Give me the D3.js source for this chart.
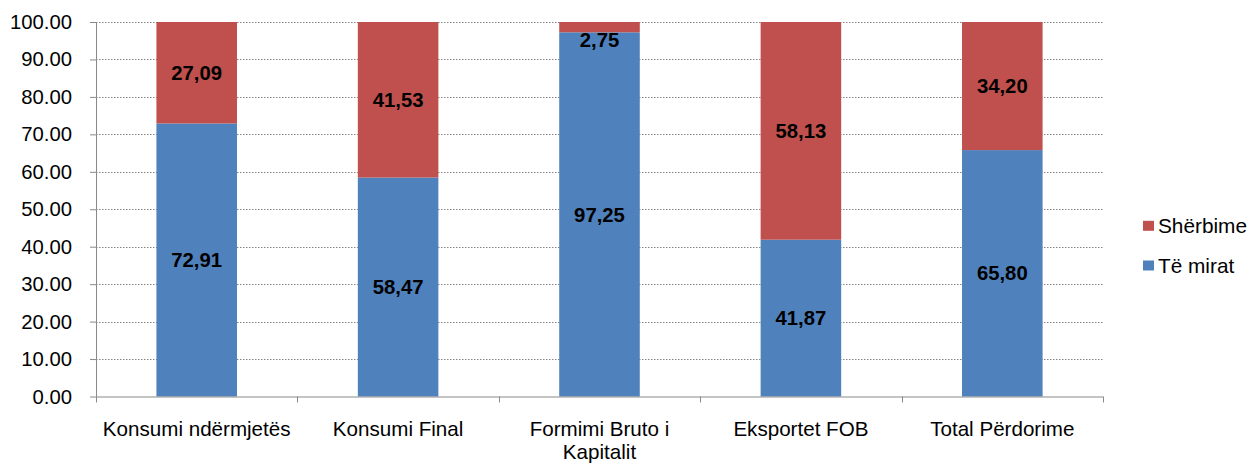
<!DOCTYPE html>
<html><head><meta charset="utf-8">
<script src="https://cdn.jsdelivr.net/npm/d3@7"></script>
<style>body{margin:0;background:#fff;font-family:"Liberation Sans",Arial,sans-serif}</style>
</head><body><svg id="c" width="1253" height="464"></svg>
<script>
const categories = ["Konsumi ndërmjetës","Konsumi Final","Formimi Bruto i Kapitalit","Eksportet FOB","Total Përdorime"];
const teMirat = [72.91, 58.47, 97.25, 41.87, 65.80];
const sherbime = [27.09, 41.53, 2.75, 58.13, 34.20];
const seriesNames = ["Të mirat","Shërbime"];
const yTicks = [0,10,20,30,40,50,60,70,80,90,100];

const svg = d3.select("#c");
const FS = "20.3px";
const L = 96, R = 1103, T = 22, B = 396.5;
const x = d3.scaleBand().domain(categories).range([L,R]).paddingInner(0.6).paddingOuter(0.3);
const y = d3.scaleLinear().domain([0,100]).range([B,T]);
const colors = ["#4F81BD","#C0504D"];

// gridlines
svg.append("g").selectAll("line").data(yTicks.slice(1)).join("line")
  .attr("x1",L).attr("x2",R).attr("y1",d=>Math.round(y(d))+0.5).attr("y2",d=>Math.round(y(d))+0.5)
  .attr("stroke","#868686").attr("stroke-width",1).attr("stroke-dasharray","1.5,1.5");

const rows = categories.map((c,i)=>({cat:c, "Të mirat":teMirat[i], "Shërbime":sherbime[i]}));
const stack = d3.stack().keys(seriesNames)(rows);

svg.append("g").selectAll("g").data(stack).join("g").attr("fill",(d,i)=>colors[i])
  .selectAll("rect").data(d=>d).join("rect")
  .attr("x",d=>x(d.data.cat)).attr("width",x.bandwidth())
  .attr("y",d=>y(d[1])).attr("height",d=>y(d[0])-y(d[1]));

// labels
const fmt = v => v.toFixed(2).replace(".",",");
stack.forEach((s,si)=>{
  svg.append("g").selectAll("text").data(s).join("text")
    .attr("x",d=>x(d.data.cat)+x.bandwidth()/2)
    .attr("y",d=>{const c=(y(d[0])+y(d[1]))/2; return Math.max(c, y(d[1])+18);})
    .attr("dy","0.35em").attr("text-anchor","middle")
    .attr("font-weight","bold").attr("font-size",FS).attr("fill","#000")
    .text(d=>fmt(d[1]-d[0]));
});

// axes
const gy = svg.append("g").attr("transform",`translate(${L},0)`)
  .call(d3.axisLeft(y).tickValues(yTicks).tickFormat(d3.format(".2f")).tickSize(6).tickPadding(18));
gy.select(".domain").attr("stroke","#898989").attr("d",`M0.5,${T}V${B}`);
gy.selectAll(".tick line").attr("stroke","#898989").attr("x2",-6);
gy.selectAll("text").attr("font-size",FS).attr("fill","#000").attr("font-family","Liberation Sans, Arial, sans-serif");

const gx = svg.append("g");
gx.append("line").attr("x1",L).attr("x2",R).attr("y1",B+0.5).attr("y2",B+0.5).attr("stroke","#898989");
const bounds = d3.range(categories.length+1).map(i=>L + i*(R-L)/categories.length);
gx.selectAll("line.t").data(bounds).join("line").attr("class","t")
  .attr("x1",d=>Math.round(d)+0.5).attr("x2",d=>Math.round(d)+0.5).attr("y1",B).attr("y2",B+6).attr("stroke","#898989");
const wrap = {"Formimi Bruto i Kapitalit":["Formimi Bruto i","Kapitalit"]};
gx.selectAll("g.cl").data(categories).join("g").attr("class","cl")
  .each(function(d){
    const lines = wrap[d]||[d];
    d3.select(this).selectAll("text").data(lines).join("text")
      .attr("x",x(d)+x.bandwidth()/2).attr("y",(l,i)=>B+39+i*23.5)
      .attr("text-anchor","middle").attr("font-size","20.6px").attr("fill","#000").text(l=>l);
  });

// legend
const leg = svg.append("g");
const legItems = [{n:"Shërbime",c:colors[1],y:225.8},{n:"Të mirat",c:colors[0],y:265.5}];
legItems.forEach(it=>{
  leg.append("rect").attr("x",1143).attr("y",it.y-5).attr("width",11).attr("height",10).attr("fill",it.c);
  leg.append("text").attr("x",1158).attr("y",it.y).attr("dy","0.35em").attr("font-size","20.8px").attr("fill","#000").text(it.n);
});
</script></body></html>
